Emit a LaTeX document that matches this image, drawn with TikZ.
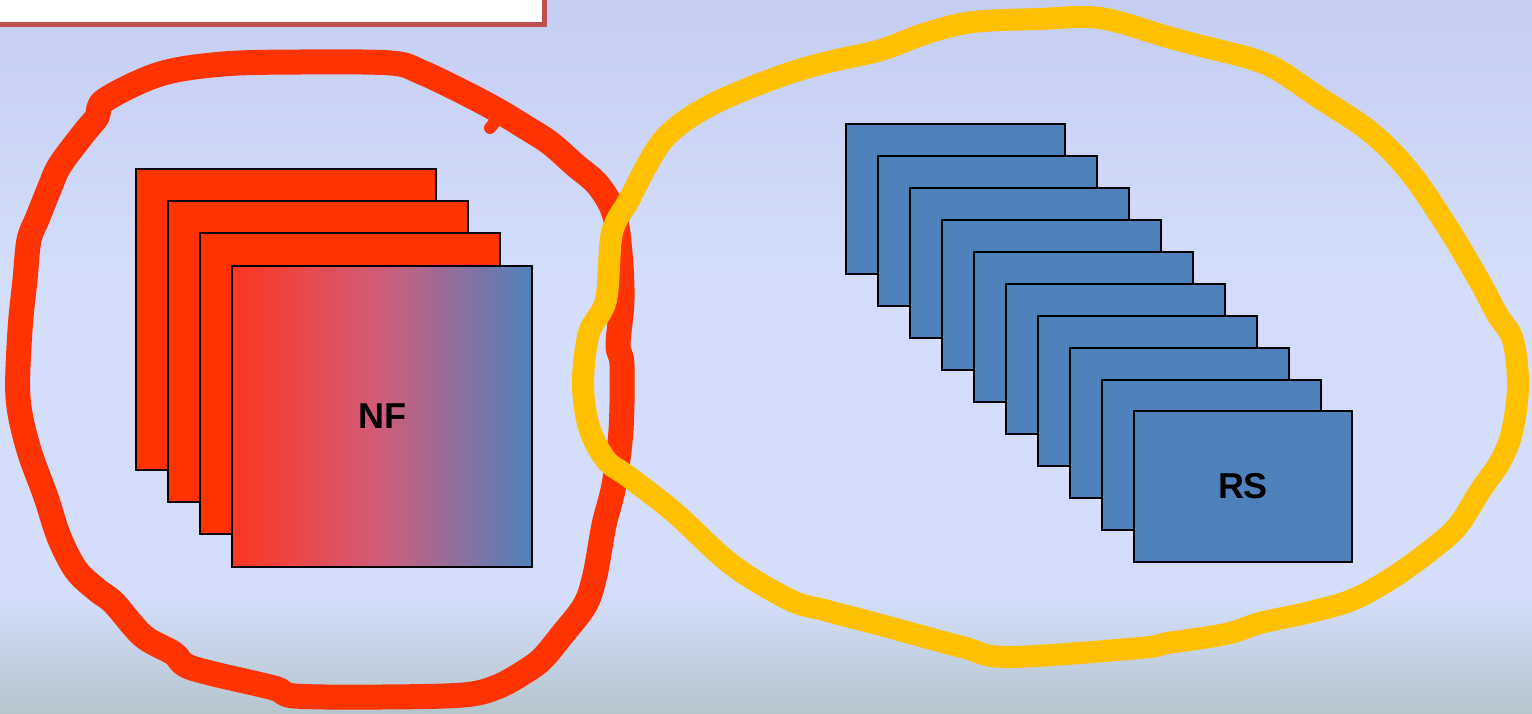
\documentclass[tikz,border=0pt]{standalone}
\usepackage{fontspec}
\setmainfont{Liberation Sans}

\definecolor{bgtop}{RGB}{197,206,242}
\definecolor{bgmid}{RGB}{212,222,252}
\definecolor{bgbot}{RGB}{182,197,205}
\definecolor{boxred}{RGB}{192,80,77}
\definecolor{sheetred}{RGB}{255,51,0}
\definecolor{sheetleft}{RGB}{253,54,32}
\definecolor{sheetpink}{RGB}{208,93,123}
\definecolor{sheetblue}{RGB}{79,129,189}
\definecolor{loopred}{RGB}{255,51,0}
\definecolor{loopyellow}{RGB}{255,192,0}

\tikzset{
  sheet/.style={draw=black, line width=2pt},
  redsheet/.style={sheet, fill=sheetred},
  bluesheet/.style={sheet, fill=sheetblue},
  loopline/.style={line width=#1, line cap=round, line join=round},
  tag/.style={font=\fontsize{36}{40}\selectfont\bfseries, text=black}
}

\begin{document}
\begin{tikzpicture}[x=1pt, y=-1pt]
  \useasboundingbox (0,0) rectangle (1532,713);
  % background
  \fill[top color=bgtop, bottom color=bgmid] (0,0) rectangle (1532,300);
  \fill[bgmid] (0,299) rectangle (1532,596);
  \fill[top color=bgmid, bottom color=bgbot] (0,595) rectangle (1532,713);
  \draw[line width=5pt, draw=boxred, fill=white] (-10,-10) rectangle (544,24);
  % NF stack
  \foreach \i in {0,1,2}{
    \draw[redsheet] (136+32*\i,169+32*\i) rectangle ++(300,301);
  }
  \node[sheet, tag, minimum width=300pt, minimum height=301pt, inner sep=0pt,
        left color=sheetleft, right color=sheetblue, middle color=sheetpink]
        (nf) at (382,416) {NF};
  % RS stack
  \foreach \i in {0,...,8}{
    \draw[bluesheet] (846+32*\i,124+32*\i) rectangle ++(219,150);
  }
  \node[bluesheet, tag, minimum width=218pt, minimum height=151pt, inner sep=0pt]
        (rs) at (1243,486.5) {RS};
  % loops
  \draw[loopline=25pt, loopred] plot[smooth cycle, tension=0.55] coordinates {
    (105,100) (160,74) (223,64) (300,62) (391,63) (421,72) (463,92) (497,110)
    (525,127) (550,143) (575,165) (598,185) (614,213) (620,253) (622,300)
    (618,345) (622,365) (621,430) (614,485) (604,525) (595,575) (585,605)
    (562,635) (543,658) (526,671) (497,687) (463,695) (380,697) (295,696)
    (274,688) (210,673) (185,665) (173,653) (143,636) (114,603) (97,590)
    (76,570) (59,537) (46,497) (28,447) (18,397) (20,330) (25,280) (29,240)
    (38,217) (50,187) (60,165) (84,133) (97,117)};
  \draw[loopline=12pt, loopred] (505,110) -- (490,128);
  \draw[loopline=22pt, loopyellow] plot[smooth cycle, tension=0.55] coordinates {
    (606,300) (612,233) (629,200) (646,167) (663,140) (686,120) (721,100)
    (778,77) (824,63) (881,50) (927,33) (973,22) (1040,19) (1100,18)
    (1168,37) (1205,47) (1249,58) (1278,70) (1318,97) (1364,127) (1395,155)
    (1421,187) (1453,236) (1480,282) (1497,314) (1513,340) (1518,386)
    (1512,432) (1500,462) (1480,491) (1457,527) (1427,553) (1392,578)
    (1352,600) (1306,613) (1260,623) (1226,634) (1168,643) (1140,648)
    (1008,657) (962,647) (881,625) (824,610) (790,600) (732,565) (675,513)
    (629,477) (606,460) (589,427) (583,383) (589,333)};
\end{tikzpicture}
\end{document}
